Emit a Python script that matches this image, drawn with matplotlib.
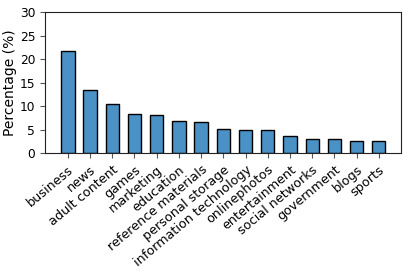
import matplotlib
matplotlib.use("Agg")
import matplotlib.pyplot as plt

categories = ["business", "news", "adult content", "games", "marketing", "education",
              "reference materials", "personal storage", "information technology",
              "onlinephotos", "entertainment", "social networks", "government", "blogs", "sports"]
values = [21.8, 13.5, 10.4, 8.45, 8.1, 6.9, 6.7, 5.15, 4.95, 4.95, 3.7, 3.1, 3.0, 2.65, 2.55]

fig = plt.figure(figsize=(4.12, 2.71), dpi=100)
ax = fig.add_axes([45/412, 1-153.3/271, (401-45)/412, (153.3-12)/271])
x = range(len(categories))
ax.bar(x, values, width=0.6, color="#4a92c6", edgecolor="black", linewidth=1.0)
ax.set_ylim(0, 30)
ax.set_yticks([0, 5, 10, 15, 20, 25, 30])
ax.set_xlim(-1.03, 15.0)
ax.set_xticks(list(x))
ax.set_xticklabels(categories, rotation=40, ha="right", rotation_mode="anchor", fontsize=9.2)
ax.tick_params(axis="y", labelsize=8.8)
ax.tick_params(axis="both", color="#555555")
for s in ax.spines.values():
    s.set_color("#222222")
ax.set_ylabel("Percentage (%)", fontsize=10)
ax.yaxis.set_label_coords(-0.079, 0.5)
fig.savefig("out.png", dpi=100)
